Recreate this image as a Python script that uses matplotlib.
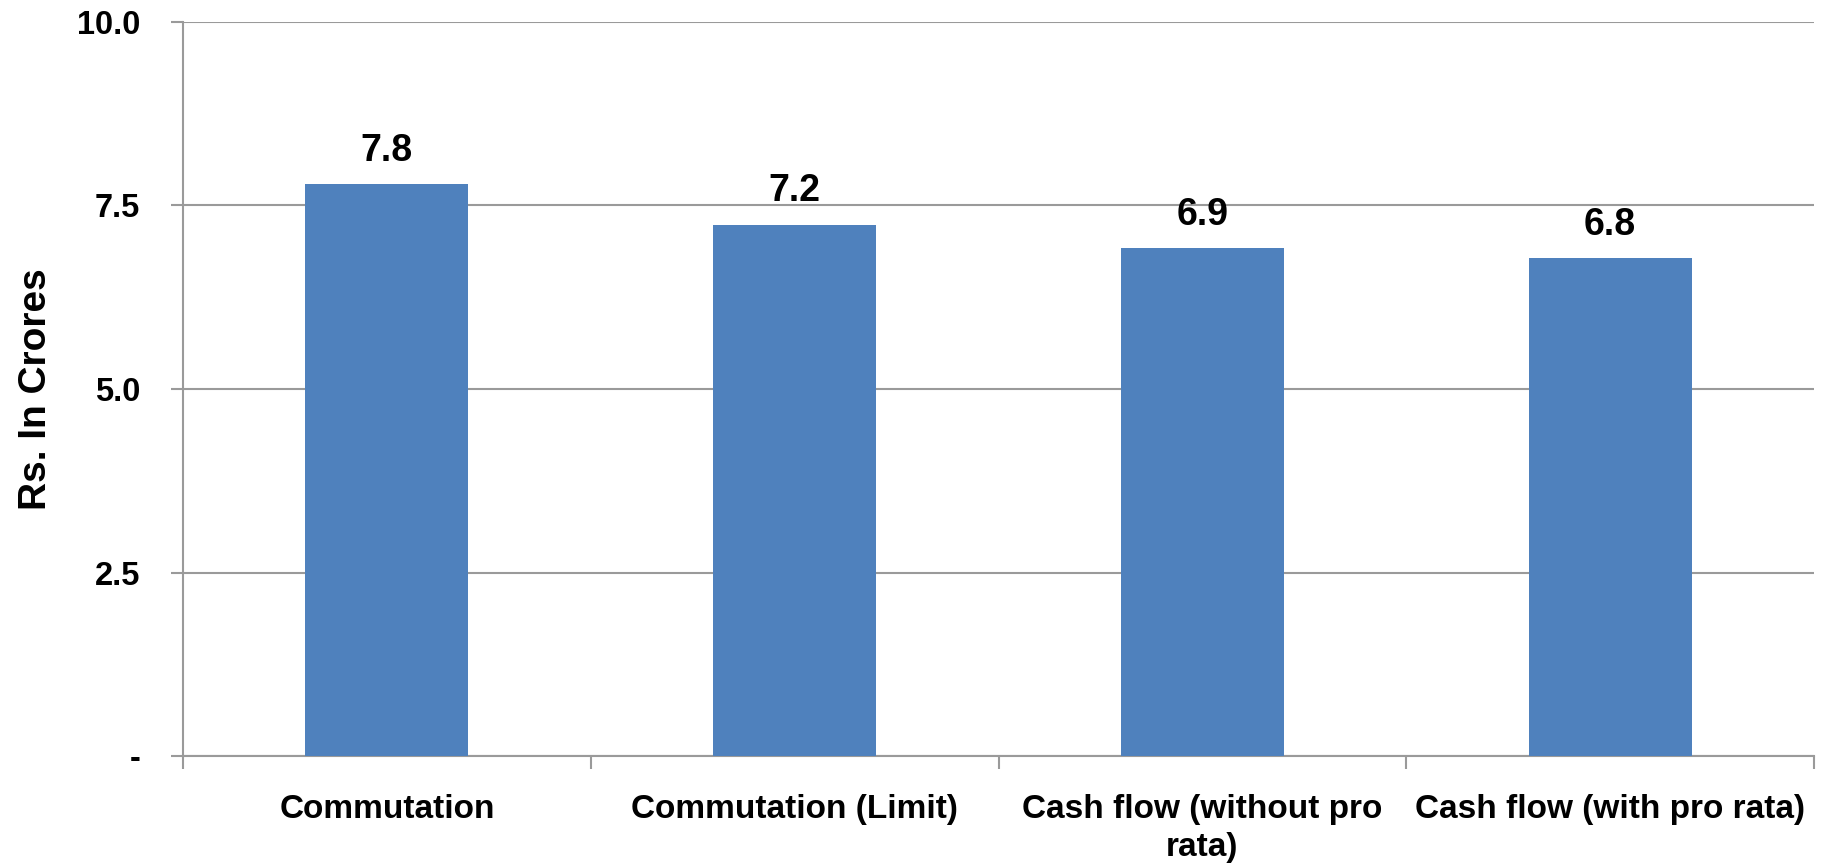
import matplotlib
matplotlib.use("Agg")
import matplotlib.pyplot as plt
from matplotlib.ticker import FixedLocator, FuncFormatter

# values in Rs. crores
categories = ["Commutation", "Commutation (Limit)", "Cash flow (without pro\nrata)",
              "Cash flow (with pro rata)"]
values = [7.79, 7.24, 6.92, 6.78]
yticks = [0, 2.5, 5.0, 7.5, 10.0]

plt.rcParams['font.family'] = ['Liberation Sans', 'DejaVu Sans']
plt.rcParams['font.weight'] = 'bold'

fig = plt.figure(figsize=(18.27, 8.68), dpi=100)
ax = fig.add_axes([0.1002, 0.129, 0.8927, 0.8457])

grey = '#9a9a9a'
x = range(len(categories))
ax.bar(x, values, width=0.4, color='#4f81bd', zorder=3)

for xi, v in zip(x, values):
    ax.annotate('%.1f' % v, (xi, v), xytext=(0, 11), textcoords='offset points',
                ha='center', va='bottom', fontsize=27, fontweight='bold')

ax.set_xlim(-0.5, 3.5)
ax.set_ylim(0, 10)
ax.set_yticks(yticks)
ax.yaxis.set_major_formatter(FuncFormatter(lambda v, p: '-' if v == 0 else '%.1f' % v))
ax.grid(axis='y', color=grey, linewidth=1.5, zorder=0)

ax.set_xticks(list(x))
ax.set_xticklabels(categories, fontsize=24, fontweight='bold', linespacing=1.3)
ax.xaxis.set_minor_locator(FixedLocator([-0.5, 0.5, 1.5, 2.5, 3.5]))
ax.tick_params(axis='x', which='major', length=0, pad=27)
ax.tick_params(axis='x', which='minor', length=9, width=1.5, color=grey)
ax.tick_params(axis='y', length=9, width=1.5, color=grey, pad=22, labelsize=23.5)
for lbl in ax.get_yticklabels():
    lbl.set_fontweight('bold')

for s in ['top', 'right']:
    ax.spines[s].set_visible(False)
for s in ['left', 'bottom']:
    ax.spines[s].set_color(grey)
    ax.spines[s].set_linewidth(1.5)

ax.set_ylabel('Rs. In Crores', fontsize=28, fontweight='bold', labelpad=16)

fig.savefig('out.png', dpi=100)
